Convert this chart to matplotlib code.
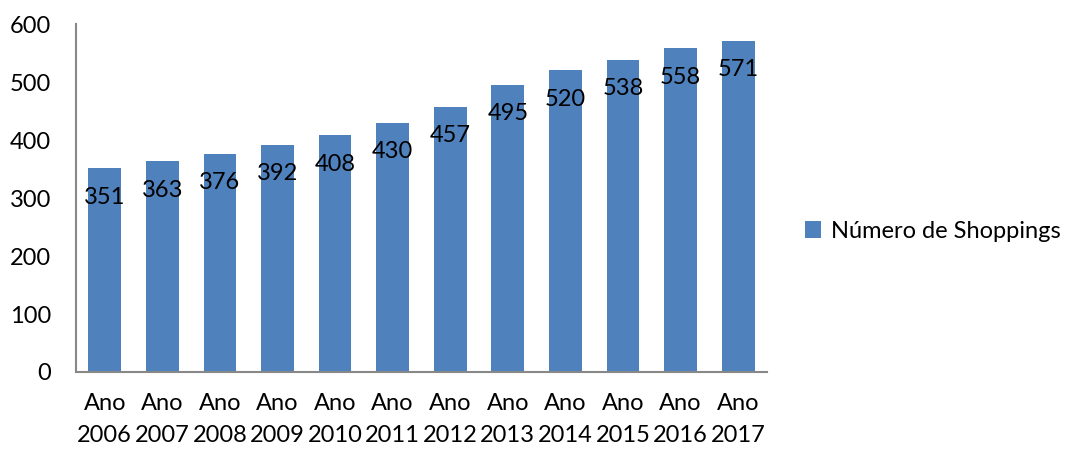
import matplotlib
matplotlib.use("Agg")
import matplotlib.pyplot as plt

plt.rcParams['font.family'] = ['Lato', 'DejaVu Sans']

years = ['2006', '2007', '2008', '2009', '2010', '2011',
         '2012', '2013', '2014', '2015', '2016', '2017']
shoppings = [351, 363, 376, 392, 408, 430, 457, 495, 520, 538, 558, 571]
labels = ['Ano\n' + y for y in years]

fig = plt.figure(figsize=(10.79, 4.49), dpi=100)
ax = fig.add_axes([0.0704, 0.1715, 0.6404, 0.775])

x = range(len(years))
bars = ax.bar(x, shoppings, width=0.57, color='#4F81BD', label='Número de Shoppings')

for xi, v in zip(x, shoppings):
    ax.text(xi, v - 50, str(v), ha='center', va='center', fontsize=17, color='black')

ax.set_xlim(-0.5, len(years) - 0.5)
ax.set_ylim(0, 600)
ax.set_yticks(range(0, 601, 100))
ax.set_xticks(list(x))
ax.set_xticklabels(labels, linespacing=1.65)
ax.tick_params(axis='both', length=0, labelsize=17, colors='black')
ax.tick_params(axis='y', pad=18)
ax.tick_params(axis='x', pad=15)

for s in ['top', 'right']:
    ax.spines[s].set_visible(False)
for s in ['left', 'bottom']:
    ax.spines[s].set_color('#888888')
    ax.spines[s].set_linewidth(1.5)

ax.legend(loc='center left', bbox_to_anchor=(1.055, 0.405), frameon=False,
          borderaxespad=0, borderpad=0, fontsize=17,
          handlelength=0.7, handleheight=0.7, handletextpad=0.4)

fig.savefig('out.png', dpi=100)
